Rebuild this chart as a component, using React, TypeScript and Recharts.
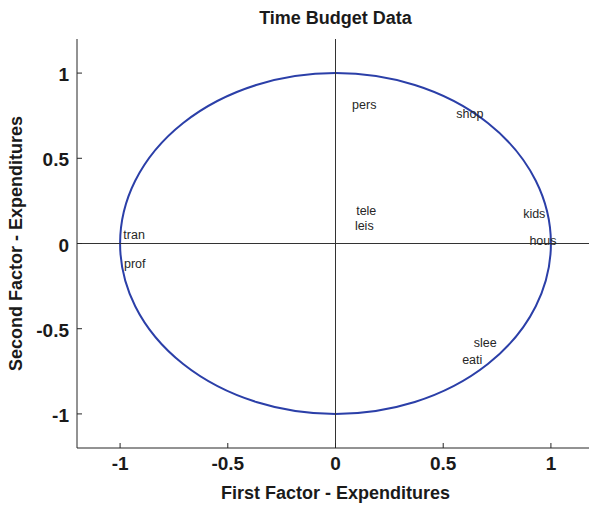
import React from 'react';
import { ScatterChart, Scatter, XAxis, YAxis, ReferenceLine, ReferenceArea } from 'recharts';

const variableNames = ['pers', 'shop', 'tele', 'leis', 'kids', 'hous', 'tran', 'prof', 'slee', 'eati'];
const firstFactor = [0.077, 0.561, 0.096, 0.09, 0.871, 0.9, -0.985, -0.982, 0.642, 0.588];
const secondFactor = [0.815, 0.76, 0.19, 0.105, 0.178, 0.015, 0.05, -0.117, -0.58, -0.68];
const xTicks = [-1, -0.5, 0, 0.5, 1];
const yTicks = [-1, -0.5, 0, 0.5, 1];
const xDomain = [-1.2, 1.2];
const yDomain = [-1.2, 1.2];
const circleX = [-1, 1];
const circleY = [-1, 1];

const titleText = 'Time Budget Data';
const xTitle = 'First Factor - Expenditures';
const yTitle = 'Second Factor - Expenditures';

const points = variableNames.map((name, i) => ({ name, x: firstFactor[i], y: secondFactor[i] }));

const FONT = '"Liberation Sans", Arial, Helvetica, sans-serif';
const AXIS = '#262626';
const BLUE = '#2b3fa8';

const W = 600;
const H = 506;
const M = { top: 39, right: 6, left: 0, bottom: 0 };
const YW = 77;
const XH = 58;

const BottomTick = (props: any) => {
  const { x, y, payload } = props;
  return (
    <g>
      <line x1={x} y1={y} x2={x} y2={y - 5} stroke={AXIS} strokeWidth={1} />
      <text x={x} y={y + 22} textAnchor="middle" fontFamily={FONT} fontSize={19} fontWeight="bold" fill="#1a1a1a">
        {String(payload.value)}
      </text>
    </g>
  );
};

const TopTick = (props: any) => {
  const { x, y } = props;
  return <line x1={x} y1={y} x2={x} y2={y + 5} stroke={AXIS} strokeWidth={1} />;
};

const LeftTick = (props: any) => {
  const { x, y, payload } = props;
  return (
    <g>
      <line x1={x} y1={y} x2={x + 5} y2={y} stroke={AXIS} strokeWidth={1} />
      <text x={x - 8} y={y + 8} textAnchor="end" fontFamily={FONT} fontSize={19} fontWeight="bold" fill="#1a1a1a">
        {String(payload.value)}
      </text>
    </g>
  );
};

const VarLabel = (props: any) => {
  const { cx, cy, payload } = props;
  return (
    <text x={cx} y={cy} dy="0.35em" textAnchor="start" fontFamily={FONT} fontSize={12.5} fill="#262626">
      {payload.name}
    </text>
  );
};

const Ellipse = (props: any) => {
  const { x, y, width, height } = props;
  return (
    <ellipse
      cx={x + width / 2}
      cy={y + height / 2}
      rx={width / 2}
      ry={height / 2}
      fill="none"
      stroke={BLUE}
      strokeWidth={2}
    />
  );
};

export default function App() {
  const plotLeft = M.left + YW;
  const plotTop = M.top;
  const plotRight = W - M.right;
  const plotBottom = H - M.bottom - XH;
  const cx = (plotLeft + plotRight) / 2;
  const cy = (plotTop + plotBottom) / 2;
  return (
    <div style={{ position: 'absolute', left: 0, top: 0, width: 589, height: 506, overflow: 'hidden', background: '#fff' }}>
      <ScatterChart width={W} height={H} margin={M}>
        <XAxis
          xAxisId="bottom"
          type="number"
          dataKey="x"
          domain={xDomain}
          ticks={xTicks}
          allowDataOverflow
          orientation="bottom"
          height={XH}
          tickSize={0}
          tickMargin={0}
          tickLine={false}
          axisLine={{ stroke: AXIS, strokeWidth: 1 }}
          tick={<BottomTick />}
          interval={0}
          label={{
            content: () => (
              <text x={cx} y={plotBottom + 51} textAnchor="middle" fontFamily={FONT} fontSize={18} fontWeight="bold" fill="#1a1a1a">
                {xTitle}
              </text>
            ),
          }}
        />
        <XAxis
          xAxisId="top"
          type="number"
          dataKey="x"
          domain={xDomain}
          ticks={xTicks}
          allowDataOverflow
          orientation="top"
          height={0}
          tickSize={0}
          tickMargin={0}
          tickLine={false}
          axisLine={{ stroke: AXIS, strokeWidth: 1 }}
          tick={<TopTick />}
          interval={0}
        />
        <YAxis
          yAxisId="left"
          type="number"
          dataKey="y"
          domain={yDomain}
          ticks={yTicks}
          allowDataOverflow
          orientation="left"
          width={YW}
          tickSize={0}
          tickMargin={0}
          tickLine={false}
          axisLine={{ stroke: AXIS, strokeWidth: 1 }}
          tick={<LeftTick />}
          interval={0}
          label={{
            content: () => (
              <text
                x={21.5}
                y={cy}
                transform={`rotate(-90, 21.5, ${cy})`}
                textAnchor="middle"
                fontFamily={FONT}
                fontSize={18}
                fontWeight="bold"
                fill="#1a1a1a"
              >
                {yTitle}
              </text>
            ),
          }}
        />
        <ReferenceLine xAxisId="bottom" yAxisId="left" x={0} stroke="#333" strokeWidth={1} />
        <ReferenceLine xAxisId="bottom" yAxisId="left" y={0} stroke="#333" strokeWidth={1} />
        <ReferenceArea
          xAxisId="bottom"
          yAxisId="left"
          x1={circleX[0]}
          x2={circleX[1]}
          y1={circleY[0]}
          y2={circleY[1]}
          shape={<Ellipse />}
        />
        <Scatter xAxisId="bottom" yAxisId="left" data={points} shape={<VarLabel />} isAnimationActive={false} />
        <Scatter xAxisId="top" yAxisId="left" data={[]} isAnimationActive={false} />
        <text x={cx} y={24} textAnchor="middle" fontFamily={FONT} fontSize={18} fontWeight="bold" fill="#1a1a1a">
          {titleText}
        </text>
      </ScatterChart>
    </div>
  );
}
